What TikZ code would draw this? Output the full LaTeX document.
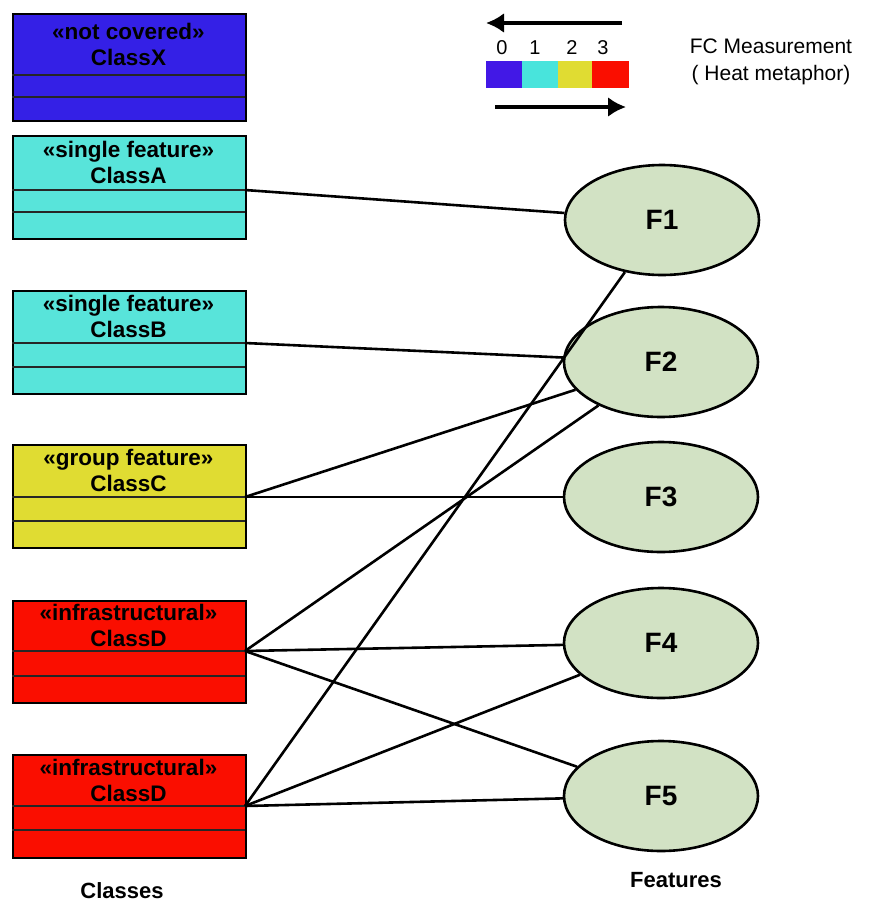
\documentclass[tikz,border=0pt]{standalone}
\usepackage{fontspec}
\setmainfont{Liberation Sans}
\usetikzlibrary{arrows.meta,shapes.geometric}

\definecolor{heatblue}{RGB}{52,32,230}
\definecolor{heatcyan}{RGB}{88,228,218}
\definecolor{heatyellow}{RGB}{224,220,50}
\definecolor{heatred}{RGB}{250,14,0}
\definecolor{scaleblue}{RGB}{66,24,230}
\definecolor{scalecyan}{RGB}{72,228,220}
\definecolor{featurefill}{RGB}{210,226,196}

\tikzset{
  classbox/.style={draw=black, line width=1.8pt, minimum width=233pt, inner sep=0pt, rectangle},
  divider/.style={line width=1.8pt, draw=black!85},
  classtext/.style={align=center, font=\bfseries\fontsize{22.5}{26}\selectfont, inner sep=0pt},
  feature/.style={ellipse, draw=black, line width=2.6pt, fill=featurefill,
                  minimum width=194pt, minimum height=110pt, inner sep=0pt,
                  font=\bfseries\fontsize{28}{30}\selectfont},
  link/.style={line width=2.6pt, draw=black},
  heatcell/.style={rectangle, inner sep=0pt, minimum height=27pt, draw=none},
  digit/.style={font=\fontsize{20}{22}\selectfont, inner sep=0pt},
  legendtext/.style={font=\fontsize{21}{27}\selectfont, align=center, inner sep=0pt},
  caption/.style={font=\bfseries\fontsize{22}{24}\selectfont, inner sep=0pt},
  scalearrow/.style={line width=3.6pt, -{Latex[length=18pt,width=20pt]}},
}

% #1 name, #2 fill, #3 top, #4 first divider, #5 second divider, #6 bottom,
% #7 stereotype, #8 class name
\newcommand\umlclass[8]{%
  \node[classbox, fill=#2, minimum height={#6-#3}, anchor=north west] (#1) at (12,#3) {};
  \draw[divider] (12,#4) -- (245,#4);
  \draw[divider] (12,#5) -- (245,#5);
  \coordinate (#1-port) at (245,#4);
  \node[classtext] (#1-label) at (128.5,{(#3+#4)/2}) {«#7»\\#8};
}

\begin{document}
\begin{tikzpicture}[x=1pt, y=-1pt]
  \useasboundingbox (0,0) rectangle (869,908);

  % classes
  \umlclass{classX}{heatblue}{13}{75}{97}{120}{not covered}{ClassX}
  \umlclass{classA}{heatcyan}{135}{190}{212}{238}{single feature}{ClassA}
  \umlclass{classB}{heatcyan}{290}{343}{367}{393}{single feature}{ClassB}
  \umlclass{classC}{heatyellow}{444}{497}{521}{547}{group feature}{ClassC}
  \umlclass{classDa}{heatred}{600}{651}{676}{702}{infrastructural}{ClassD}
  \umlclass{classDb}{heatred}{754}{806}{830}{857}{infrastructural}{ClassD}

  \node[caption] (classes) at (122,891) {Classes};

  % features
  \node[feature] (F1) at (662,220) {F1};
  \node[feature] (F2) at (661,362) {F2};
  \node[feature] (F3) at (661,497) {F3};
  \node[feature] (F4) at (661,643) {F4};
  \node[feature] (F5) at (661,796) {F5};

  \node[caption] (features) at (676,880) {Features};

  % class-to-feature links
  \draw[link] (classA-port) -- (F1);
  \draw[link] (classB-port) -- (F2);
  \draw[link] (classC-port) -- (F2);
  \draw[link] (classC-port) -- (F3);
  \draw[link] (classDa-port) -- (F2);
  \draw[link] (classDa-port) -- (F4);
  \draw[link] (classDa-port) -- (F5);
  \draw[link] (classDb-port) -- (F1);
  \draw[link] (classDb-port) -- (F4);
  \draw[link] (classDb-port) -- (F5);

  % heat scale legend
  \node[heatcell, fill=scaleblue, minimum width=36pt, anchor=north west] (cell0) at (486,61) {};
  \node[heatcell, fill=scalecyan, minimum width=36pt, anchor=north west] (cell1) at (522,61) {};
  \node[heatcell, fill=heatyellow, minimum width=34pt, anchor=north west] (cell2) at (558,61) {};
  \node[heatcell, fill=heatred, minimum width=37pt, anchor=north west] (cell3) at (592,61) {};

  \node[digit] (d0) at (502,48) {0};
  \node[digit] (d1) at (535,48) {1};
  \node[digit] (d2) at (572,48) {2};
  \node[digit] (d3) at (603,48) {3};

  \coordinate (upper-start) at (622,23);
  \coordinate (upper-end) at (486,23);
  \coordinate (lower-start) at (495,107);
  \coordinate (lower-end) at (626,107);
  \draw[scalearrow] (upper-start) -- (upper-end);
  \draw[scalearrow] (lower-start) -- (lower-end);

  \node[legendtext] (fc) at (771,62) {FC Measurement\\( Heat metaphor)};
\end{tikzpicture}
\end{document}
